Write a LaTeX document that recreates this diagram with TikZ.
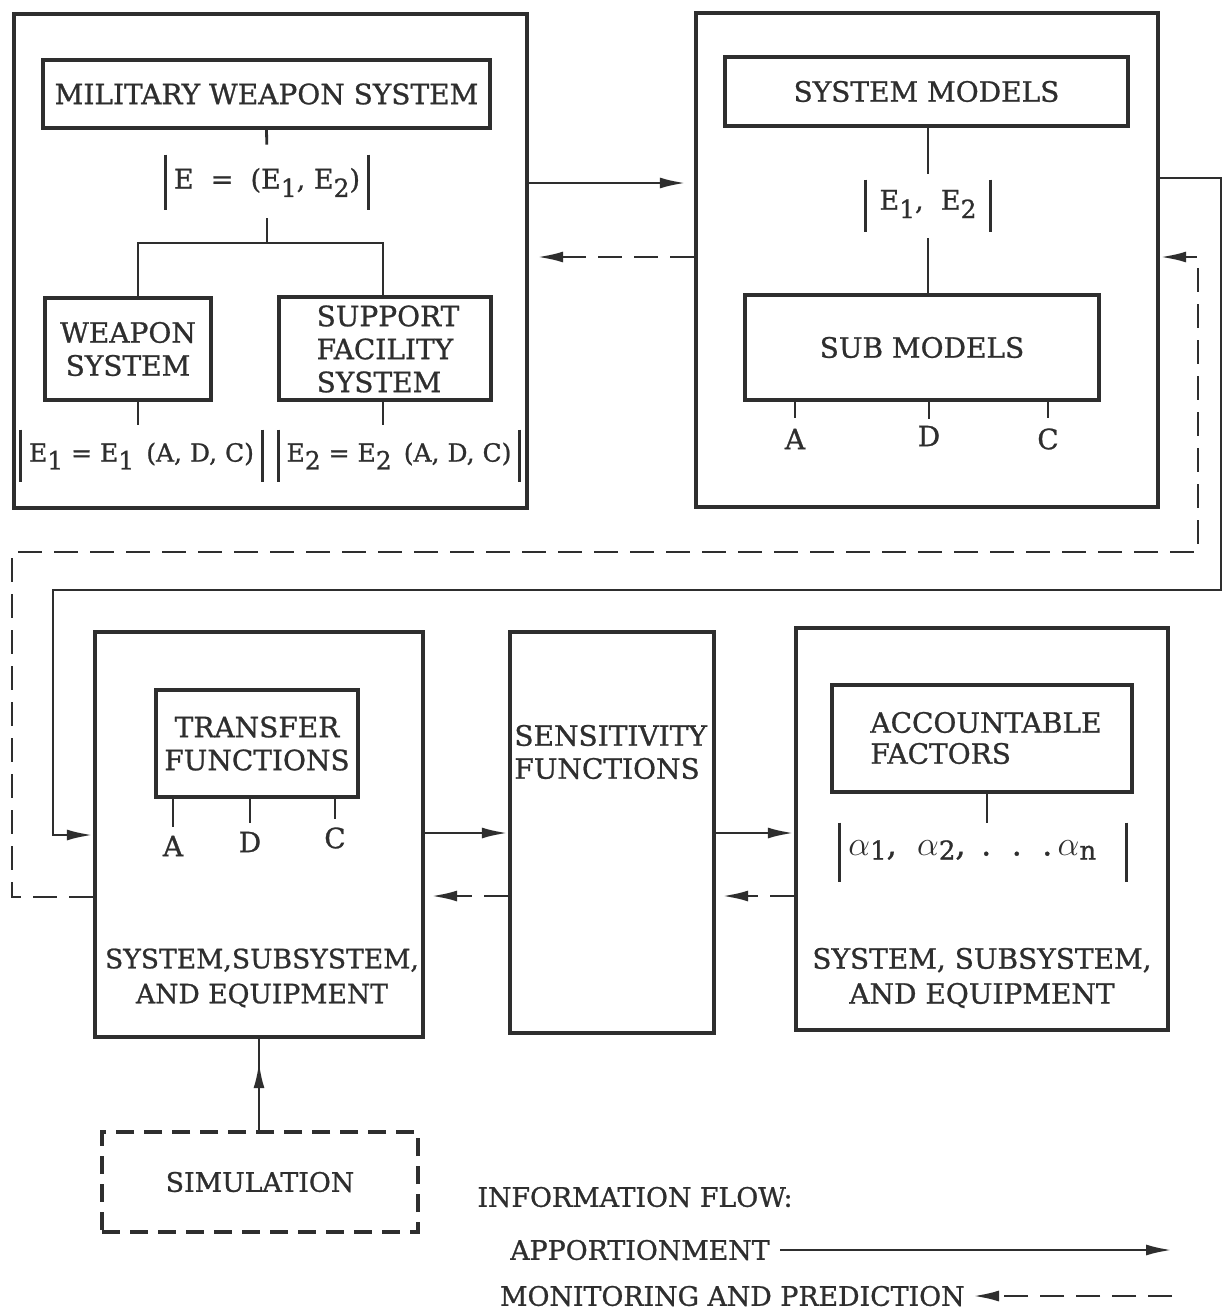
\documentclass[tikz,border=0pt]{standalone}
\usepackage{fontspec}
\setmainfont{DejaVu Serif}
\newfontfamily\dfont{DejaVu Serif}[FakeBold=0.9]
\usetikzlibrary{arrows.meta,fit,calc}
\definecolor{ink}{gray}{0.18}
\newcommand\sbx[1]{\raisebox{-0.6ex}{\fontsize{12.5}{12.5}\selectfont #1}}
\newcommand\asb[1]{\raisebox{-0.25ex}{\fontsize{13}{13}\selectfont #1}}
\begin{document}
\begin{tikzpicture}[x=0.5pt,y=-0.5pt,
  outerbox/.style={draw=ink, line width=2.2pt, inner sep=0pt},
  innerbox/.style={draw=ink, line width=1.8pt, inner sep=0pt},
  lbl/.style={text=ink, font=\dfont\fontsize{14}{16.5}\selectfont, align=center, inner sep=0pt},
  legendtext/.style={text=ink, font=\dfont\fontsize{13.4}{16}\selectfont, inner sep=0pt},
  eqn/.style={text=ink, font=\dfont\fontsize{12.5}{15}\selectfont, inner sep=0pt},
  conn/.style={draw=ink, line width=1.4pt},
  bar/.style={draw=ink, line width=1.4pt},
  solidarrow/.style={draw=ink, line width=1.4pt, -{Latex[length=13pt,width=5.5pt]}},
  dasharrow/.style={draw=ink, line width=1.4pt, dash pattern=on 12pt off 6pt, -{Latex[length=13pt,width=5.5pt]}},
  simbox/.style={draw=ink, line width=2pt, dash pattern=on 9pt off 5pt, inner sep=0pt}
]
\fill[white] (0,0) rectangle (1226,1312);
\useasboundingbox (0,0) rectangle (1226,1312);

% ---------------- top left ----------------
\node[outerbox, fit={(14,14)(527,508)}] (tl) {};
\node[innerbox, fit={(43,60)(490,128)}] (mws) {};
\node[lbl] (mwst) at (mws.center) {MILITARY WEAPON SYSTEM};
\node[eqn, fit={(166,155)(368,210)}] (eqE) {};
\node[eqn, font=\dfont\fontsize{13.5}{15}\selectfont] (eqEt) at (eqE.center) {E \ = \ (E\sbx{1}, E\sbx{2})};
\draw[bar] (eqE.north west) -- (eqE.south west);
\draw[bar] (eqE.north east) -- (eqE.south east);
\draw[conn, shorten >=5pt] (mws.south) -- (eqE.north);
\coordinate (br) at (267,243);
\draw[conn, shorten <=4pt] (eqE.south) -- (br);
\node[innerbox, fit={(45,298)(211,400)}] (ws) {};
\node[lbl] (wst) at (ws.center) {WEAPON\\SYSTEM};
\node[innerbox, fit={(279,297)(491,400)}] (sfs) {};
\node[lbl, align=left] (sfst) at (388,349) {SUPPORT\\FACILITY\\SYSTEM};
\draw[conn] (br) -| ($(ws.north)+(10,0)$);
\draw[conn] (br) -| ($(sfs.north)+(-2,0)$);
\node[eqn, fit={(21,430)(262,482)}] (eq1) {};
\node[eqn] (eq1t) at (eq1.center) {E\sbx{1} = E\sbx{1} \,(A, D, C)};
\draw[bar] (eq1.north west) -- (eq1.south west);
\draw[bar] (eq1.north east) -- (eq1.south east);
\node[eqn, fit={(279,430)(519,482)}] (eq2) {};
\node[eqn] (eq2t) at (eq2.center) {E\sbx{2} = E\sbx{2} \,(A, D, C)};
\draw[bar] (eq2.north west) -- (eq2.south west);
\draw[bar] (eq2.north east) -- (eq2.south east);
\coordinate (t1) at (138,425);
\coordinate (t2) at (383,425);
\draw[conn] (ws.south -| t1) -- (t1);
\draw[conn] (sfs.south -| t2) -- (t2);

% ---------------- top right ----------------
\node[outerbox, fit={(696,13)(1158,507)}] (tr) {};
\node[innerbox, fit={(725,57)(1128,126)}] (sm) {};
\node[lbl] (smt) at (sm.center) {SYSTEM MODELS};
\node[eqn, fit={(866,180)(990,232)}] (eq12) {};
\node[eqn, font=\dfont\fontsize{13.5}{15}\selectfont] (eq12t) at ($(eq12.center)+(0,-2)$) {E\sbx{1}, \ E\sbx{2}};
\draw[bar] (eq12.north west) -- (eq12.south west);
\draw[bar] (eq12.north east) -- (eq12.south east);
\node[innerbox, fit={(745,295)(1099,400)}] (sub) {};
\node[lbl] (subt) at (sub.center) {SUB MODELS};
\draw[conn, shorten >=3pt] (sm.south -| eq12.north) -- (eq12.north);
\draw[conn, shorten <=3pt] (eq12.south) -- (sub.north -| eq12.south);
\node[lbl] (sa) at (795,439) {A};
\node[lbl] (sd) at (929,436) {D};
\node[lbl] (sc) at (1048,439) {C};
\draw[conn, shorten >=5pt] (sa.north |- sub.south) -- (sa.north);
\draw[conn, shorten >=3pt] (sd.north |- sub.south) -- (sd.north);
\draw[conn, shorten >=5pt] (sc.north |- sub.south) -- (sc.north);

% ---------------- top arrows ----------------
\coordinate (ya) at (0,183);
\coordinate (yb) at (0,257);
\draw[solidarrow, shorten >=4pt] (tl.east |- ya) -- (tr.west |- ya);
\draw[dasharrow, shorten >=4pt] (tr.west |- yb) -- (tl.east |- yb);

% ---------------- bottom row ----------------
\node[outerbox, fit={(95,632)(423,1037)}] (sse) {};
\node[innerbox, fit={(156,690)(358,797)}] (tf) {};
\node[lbl] (tft) at (tf.center) {TRANSFER\\FUNCTIONS};
\node[lbl] (ta) at (173,846) {A};
\node[lbl] (td) at (250,842) {D};
\node[lbl] (tc) at (335,838) {C};
\draw[conn, shorten >=4pt] (ta.north |- tf.south) -- (ta.north);
\draw[conn, shorten >=4pt] (td.north |- tf.south) -- (td.north);
\draw[conn, shorten >=4pt] (tc.north |- tf.south) -- (tc.north);
\node[lbl, font=\dfont\fontsize{13.3}{17.5}\selectfont] (sset) at (262,978) {SYSTEM,SUBSYSTEM,\\AND EQUIPMENT};

\node[outerbox, fit={(510,632)(714,1033)}] (sens) {};
\node[lbl, align=left, anchor=west] (senst) at (514,752) {SENSITIVITY\\FUNCTIONS};

\node[outerbox, fit={(796,628)(1168,1030)}] (acc) {};
\node[innerbox, fit={(832,685)(1132,792)}] (af) {};
\node[lbl, align=left, anchor=west, font=\dfont\fontsize{14}{15.5}\selectfont] (aft) at (870,738) {ACCOUNTABLE\\FACTORS};
\node[eqn, fit={(840,823)(1126,882)}] (alp) {};
\node[eqn, font=\dfont\fontsize{16}{16}\selectfont, anchor=west] (alpt) at (848,850) {$\alpha$\asb{1}, \ $\alpha$\asb{2}, \,.\ \ .\ \ .\,$\alpha$\asb{n}};
\draw[bar] (alp.north west) -- (alp.south west);
\draw[bar] (alp.north east) -- (alp.south east);
\coordinate (ac) at (987,0);
\draw[conn] (af.south -| ac) -- (alp.north -| ac);
\node[lbl, font=\dfont\fontsize{14}{17.5}\selectfont] (acct) at (982,978) {SYSTEM, SUBSYSTEM,\\AND EQUIPMENT};

% ---------------- bottom arrows ----------------
\coordinate (yc) at (0,833);
\coordinate (yd) at (0,896);
\draw[solidarrow] (sse.east |- yc) -- (sens.west |- yc);
\draw[dasharrow, shorten >=3pt] (sens.west |- yd) -- (sse.east |- yd);
\draw[solidarrow] (sens.east |- yc) -- (acc.west |- yc);
\draw[dasharrow, shorten >=3pt] (acc.west |- yd) -- (sens.east |- yd);

% ---------------- loops ----------------
\coordinate (ye) at (0,178);
\coordinate (yf) at (0,835);
\draw[solidarrow] (tr.east |- ye) -- (1221,178) -- (1221,590) -- (53,590) -- (53,835) -- (sse.west |- yf);
\coordinate (yg) at (0,897);
\draw[dasharrow] (sse.west |- yg) -- (12,897) -- (12,552) -- (1198,552) -- (1198,257) -- (tr.east |- yb);

% ---------------- simulation ----------------
\node[simbox, fit={(102,1132)(418,1232)}] (sim) {};
\node[legendtext] (simt) at (sim.center) {SIMULATION};
\draw[solidarrow, shorten >=11.5pt] (sim.north -| sse.south) -- (sse.south);
\draw[conn] ($(sim.north -| sse.south)+(0,-60)$) -- (sse.south);

% ---------------- legend ----------------
\node[legendtext, anchor=west] (info) at (477,1197) {INFORMATION FLOW:};
\node[legendtext, anchor=east] (app) at (770,1250) {APPORTIONMENT};
\coordinate (append) at (1172,1250);
\draw[solidarrow, shorten <=5pt] (app.east) -- (append);
\node[legendtext, anchor=east] (mon) at (965,1296) {MONITORING AND PREDICTION};
\coordinate (monstart) at (1172,1296);
\draw[dasharrow, shorten >=4pt] (monstart) -- (mon.east);
\end{tikzpicture}
\end{document}
